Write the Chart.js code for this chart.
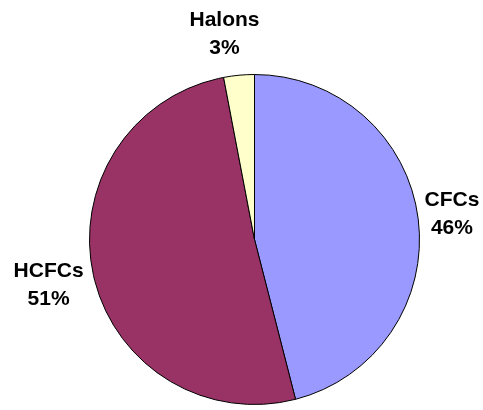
<!DOCTYPE html>
<html>
<head>
<meta charset="utf-8">
<script src="https://cdn.jsdelivr.net/npm/chart.js@4.4.0/dist/chart.umd.min.js"></script>
<style>
  html, body { margin: 0; padding: 0; background: #fff; }
  #wrap { width: 483px; height: 410px; }
</style>
</head>
<body>
<div id="wrap"><canvas id="myChart" width="483" height="410"></canvas></div>
<script>
// valores
const categorias = ["CFCs", "HCFCs", "Halons"];
const percentuais = [46, 51, 3];
const cores = ["#9999FF", "#993366", "#FFFFCC"];

// desenha os rótulos "nome\nvalor%" fora de cada fatia
const rotulosFatias = {
    id: "rotulosFatias",
    afterDatasetsDraw(chart) {
        const ctx = chart.ctx;
        const meta = chart.getDatasetMeta(0);
        ctx.save();
        ctx.font = "bold 21px 'Liberation Sans', Arial, sans-serif";
        ctx.fillStyle = "#000";
        ctx.textAlign = "center";
        ctx.textBaseline = "middle";
        meta.data.forEach((arco, i) => {
            const meio = (arco.startAngle + arco.endAngle) / 2;
            let dist = arco.outerRadius + 34;
            if (Math.cos(meio) < 0) dist += 12;
            let x = arco.x + Math.cos(meio) * dist;
            let y = arco.y + Math.sin(meio) * dist;
            // fatia pequena no topo: rótulo puxado para a esquerda como no Excel
            if (Math.abs(Math.cos(meio)) < 0.2) {
                x = arco.x - 30;
                y = arco.y - arco.outerRadius - 40;
            }
            ctx.fillText(categorias[i], x, y - 14);
            ctx.fillText(percentuais[i] + "%", x, y + 14);
        });
        ctx.restore();
    }
};

const data = {
    labels: categorias,
    datasets: [
        {
            data: percentuais,
            backgroundColor: cores,
            borderColor: "#000",
            borderWidth: 1,
        },
    ],
};

const config = {
    type: "pie",
    data,
    options: {
        responsive: false,
        animation: false,
        layout: {
            padding: { top: 73, bottom: 4, left: 89, right: 63 },
        },
        plugins: {
            legend: { display: false },
            tooltip: { enabled: false },
        },
    },
    plugins: [rotulosFatias],
};

const myChart = new Chart(document.getElementById("myChart").getContext("2d"), config);
</script>
</body>
</html>
